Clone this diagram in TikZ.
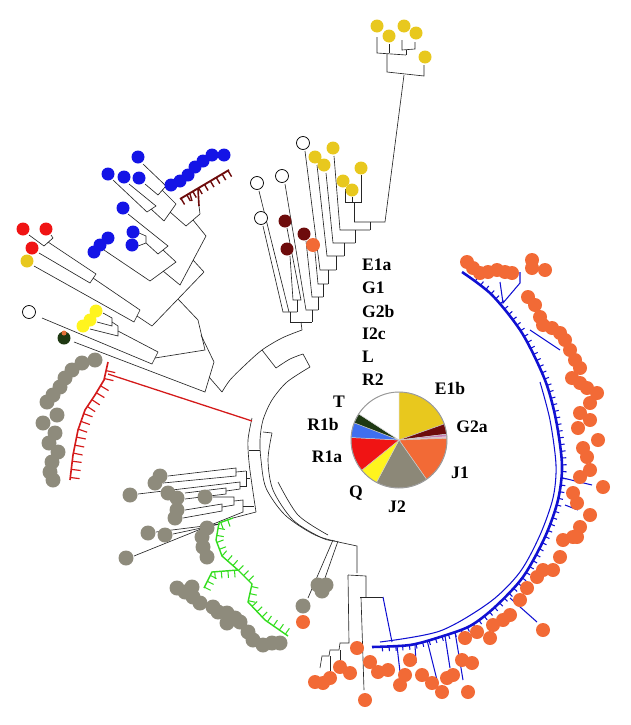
\documentclass[tikz,border=0pt]{standalone}
\usepackage{fontspec}
\setmainfont{Liberation Serif}
\usepackage{xcolor}
\usepackage{tikz}
\usetikzlibrary{decorations.markings}
\definecolor{dotorange}{HTML}{F26A36}
\definecolor{dotgrey}{HTML}{8E8B7C}
\definecolor{dotblue}{HTML}{1414E6}
\definecolor{dotred}{HTML}{F01414}
\definecolor{dotgold}{HTML}{E8C81E}
\definecolor{dotlemon}{HTML}{FFF41E}
\definecolor{maroon}{HTML}{6E0C0C}
\definecolor{darkleaf}{HTML}{1E3812}
\definecolor{treeblue}{HTML}{1010D2}
\definecolor{treered}{HTML}{D41A1A}
\definecolor{treegreen}{HTML}{33DD1E}
\definecolor{piepink}{HTML}{C77DB5}
\definecolor{pielight}{HTML}{EDB8CF}
\definecolor{pieblue}{HTML}{3F6FF0}
\definecolor{piegrey}{HTML}{8C8878}

\begin{document}
\begin{tikzpicture}[x=0.03cm,y=-0.03cm,
  branch/.style={line width=0.55pt,black!85},
  bluebranch/.style={line width=0.9pt,treeblue},
  teeth/.style n args={3}{postaction={decorate,decoration={markings,
      mark=between positions 0.02 and 0.98 step #1 with {\draw[#2] (0,0) -- (0,-#3);}}}},
  hg/.style={font=\bfseries\fontsize{15}{15}\selectfont,inner sep=0pt}]
  \useasboundingbox (0,0) rectangle (630,725);

  % backbone arcs
  \draw[branch] plot[smooth] coordinates {(302,330)(282,338)(262,350)(244,366)(230,380)(222,392)};
  \draw[branch] (262,350) -- (276,368);
  \draw[branch] plot[smooth] coordinates {(276,368)(290,359)(303,354)};
  \draw[branch] (303,354) -- (310,367);
  \draw[branch] plot[smooth] coordinates {(310,367)(287,382)(272,400)(263,420)(260,440)(261,460)(266,488)(285,515)(315,535)(343,543)};
  \draw[branch] (263,432) -- (272,433);
  \draw[branch] plot[smooth] coordinates {(272,433)(268,460)(273,490)(293,520)(322,538)(335,541)};
  \draw[branch] plot[smooth] coordinates {(278,482)(298,515)(328,535)};
  \draw[branch] plot[smooth] coordinates {(252,418)(248,440)(249,462)(252,485)(256,512)};
  \draw[branch] (249,450) -- (260,450);

  % top section
  \draw[branch] (377,37) -- (377,53) -- (406,55);
  \draw[branch] (389,44) -- (389,53);
  \draw[branch] (402,40) -- (402,50) -- (415,49) -- (415,42);
  \draw[branch] (406,50) -- (406,55);
  \draw[branch] (387,54) -- (387,72) -- (424,76) -- (424,65);
  \draw[branch] (404,75) -- (385,222) -- (354,222);
  \draw[branch] (345,189) -- (345,202) -- (361,202) -- (361,175);
  \draw[branch] (352,197) -- (352,202);
  \draw[branch] (354,202) -- (354,222);
  \draw[branch] (370,222) -- (370,230);
  \draw[branch] (334,156) -- (340,230) -- (370,230);
  \draw[branch] (355,230) -- (355,243);
  \draw[branch] (326,173) -- (333,243) -- (355,243);
  \draw[branch] (344,243) -- (344,256);
  \draw[branch] (317,165) -- (327,256) -- (344,256);
  \draw[branch] (336,256) -- (336,270);
  \draw[branch] (305,151) -- (320,270) -- (336,270);
  \draw[branch] (328,270) -- (328,284);
  \draw[branch] (315,252) -- (318,284) -- (328,284);
  \draw[branch] (323,284) -- (323,297);
  \draw[branch] (306,241) -- (312,297) -- (323,297);
  \draw[branch] (318,297) -- (318,310);
  \draw[branch] (285,184) -- (306,310) -- (318,310);
  \draw[branch] (312,310) -- (312,322);
  \draw[branch] (290,256) -- (293,300) -- (301,300) -- (287,228);
  \draw[branch] (297,300) -- (297,312);
  \draw[branch] (263,226) -- (283,312) -- (297,312);
  \draw[branch] (259,191) -- (289,312);
  \draw[branch] (290,312) -- (290,322) -- (312,322);
  \draw[branch] (301,322) -- (302,330);

  % upper left section
  \draw[branch] (113,180) -- (147,212) -- (156,206) -- (129,184);
  \draw[branch] (151,209) -- (164,221);
  \draw[branch] (143,164) -- (166,186) -- (158,195) -- (145,184);
  \draw[branch] (162,190) -- (176,204) -- (164,221);
  \draw[branch] (170,212) -- (186,226) -- (200,214);
  \draw[line width=1.6pt,maroon,teeth={0.12}{line width=1.2pt,maroon}{6pt}] (180,199) -- (229,170);
  \draw[line width=1.2pt,maroon] (190,194) -- (192,201);
  \draw[line width=1.4pt,maroon] (198,189) -- (199,206);
  \draw[branch] (199,206) -- (200,214);
  \draw[branch] (193,220) -- (206,236);
  \draw[branch] (128,214) -- (168,246) -- (158,254) -- (146,243);
  \draw[branch] (139,233) -- (146,236) -- (146,243) -- (138,246);
  \draw[branch] (163,250) -- (176,262) -- (150,281) -- (104,250);
  \draw[branch] (163,271) -- (180,285) -- (206,236);
  \draw[branch] (193,260) -- (204,272);
  \draw[branch] (29,235) -- (44,246) -- (53,238) -- (51,235);
  \draw[branch] (48,242) -- (96,274) -- (90,283) -- (39,253);
  \draw[branch] (93,278) -- (140,310) -- (134,322) -- (34,266);
  \draw[branch] (137,316) -- (152,326) -- (204,272);
  \draw[branch] (178,299) -- (198,320);
  \draw[branch] (103,313) -- (112,318) -- (112,326) -- (97,322);
  \draw[branch] (112,322) -- (118,326) -- (118,336) -- (90,329);
  \draw[branch] (118,331) -- (158,352) -- (152,364) -- (42,318);
  \draw[branch] (155,358) -- (205,350) -- (198,320);
  \draw[branch] (201,335) -- (214,362) -- (205,392) -- (74,342);
  \draw[branch] (209,377) -- (222,392);

  % red clade
  \draw[line width=1.1pt,treered] (108,374) -- (252,421);
  \draw[line width=1.4pt,treered,teeth={0.065}{line width=1pt,treered}{8pt}]
    (70,480) -- (73,455) -- (78,430) -- (85,410) -- (95,395) -- (104,380) -- (108,362);

  % grey clade with black branches
  \draw[branch] (168,476) -- (236,468) -- (236,476) -- (163,483);
  \draw[branch] (236,472) -- (246,471);
  \draw[branch] (138,494) -- (240,482) -- (240,489) -- (226,491);
  \draw[branch] (185,493) -- (226,488) -- (226,494) -- (185,499);
  \draw[branch] (240,486) -- (246,486) -- (246,471);
  \draw[branch] (246,478) -- (250,478);
  \draw[branch] (185,510) -- (222,504) -- (222,511) -- (183,518);
  \draw[branch] (222,507) -- (234,505) -- (234,497) -- (213,497);
  \draw[branch] (234,501) -- (243,500) -- (243,512) -- (134,556);
  \draw[branch] (173,534) -- (220,524) -- (156,532);
  \draw[branch] (243,506) -- (254,506);
  \draw[branch] (233,518) -- (256,512);

  % green clade
  \draw[line width=1.2pt,treegreen,teeth={0.045}{line width=0.9pt,treegreen}{6pt}]
    (288,636) -- (265,620) -- (248,602) -- (252,584) -- (238,570) -- (222,556) -- (216,540) -- (219,523) -- (233,518);
  \draw[line width=1.2pt,treegreen,teeth={0.15}{line width=0.9pt,treegreen}{6pt}]
    (204,588) -- (212,572) -- (238,570);

  % bottom section
  \draw[branch] (333,540) -- (308,598);
  \draw[branch] (338,541) -- (325,578);
  \draw[branch] (343,543) -- (357,546) -- (357,573);
  \draw[branch] (348,575) -- (366,576) -- (366,597);
  \draw[branch] (348,575) -- (349,643) -- (340,643) -- (339,650) -- (330,650) -- (329,656) -- (322,656) -- (320,668);
  \draw[branch] (340,650) -- (340,660);
  \draw[branch] (330,656) -- (330,671);
  \draw[branch] (360,597) -- (383,597);
  \draw[branch] (361,597) -- (364,690);
  \draw[bluebranch] (383,597) -- (392,642);

  % big blue clade
  \draw[line width=2.2pt,treeblue,teeth={0.013}{line width=0.9pt,treeblue}{4pt}] plot[smooth] coordinates
    {(372,647)(410,645)(440,637)(470,626)(495,607)(523,577)(545,537)(558,500)(562,465)(556,420)(545,380)(522,333)(492,295)(462,272)};
  \draw[bluebranch] plot[smooth] coordinates
    {(380,642)(440,631)(490,602)(520,572)(540,535)(553,498)(556,465)(550,420)(540,382)};
  \draw[bluebranch] (563,478) -- (592,485);
  \draw[bluebranch] (565,505) -- (578,510);
  \draw[bluebranch] (510,598) -- (537,622);
  \draw[bluebranch] (397,646) -- (400,672);
  \draw[bluebranch] (415,645) -- (416,663);
  \draw[bluebranch] (427,640) -- (437,680);
  \draw[bluebranch] (445,636) -- (450,668);
  \draw[bluebranch] (455,632) -- (463,680);
  \draw[bluebranch] (500,282) -- (503,303) -- (520,283) -- (520,272);
  \draw[bluebranch] (530,330) -- (560,350);

  % leaves
  \foreach \x/\y in {377/26,389/36,404/26,416/33,425/57,333/148,315/157,324/165,
      361/168,343/181,352/190,27/261}
    \fill[dotgold] (\x,\y) circle (6.5);
  \foreach \x/\y in {303/143,282/176,257/183,261/218,29/312}
    \draw[line width=0.6pt,fill=white] (\x,\y) circle (6.5);
  \foreach \x/\y in {285/221,304/234,287/249}
    \fill[maroon] (\x,\y) circle (6.5);
  \foreach \x/\y in {138/157,108/174,124/177,139/178,123/208,133/232,132/245,94/252,
      100/245,108/238,171/185,180/181,188/175,195/167,203/161,212/155,224/155}
    \fill[dotblue] (\x,\y) circle (6.5);
  \foreach \x/\y in {23/229,46/229,32/248}
    \fill[dotred] (\x,\y) circle (6.5);
  \foreach \x/\y in {96/311,90/320,83/326}
    \fill[dotlemon] (\x,\y) circle (6.5);
  \fill[darkleaf] (64,338) circle (6.5);
  \fill[dotorange!70!brown] (64,333) circle (2.5);
  \foreach \x/\y in {95/360,82/363,72/370,65/378,60/387,53/395,47/402,57/415,43/423,
      55/433,49/443,58/452,52/462,50/472,53/480,
      160/476,155/483,130/495,168/493,177/498,177/510,175/518,205/497,148/533,165/535,126/558,
      207/528,202/537,203/547,207/557,177/588,192/587,193/597,200/603,213/607,227/613,
      227/623,240/622,248/632,253/640,263/645,280/643,272/643,185/592,218/612,235/618,
      318/585,326/585,322/591,303/606}
    \fill[dotgrey] (\x,\y) circle (7.5);
  \foreach \x/\y in {313/245,
      467/262,473/268,480/273,488/272,497/270,505/272,512/273,532/260,532/268,545/270,
      528/297,535/305,540/317,543/325,552/328,560/333,565/340,570/350,575/360,580/368,
      572/378,580/383,587/388,597/393,590/403,580/413,590/420,578/428,598/440,583/448,
      587/457,590/470,580/477,603/487,573/493,577/503,590/515,580/527,577/537,
      573/537,563/540,560/557,553/570,543/570,537/577,527/588,520/600,510/615,503/620,
      493/625,490/638,477/632,465/638,543/630,472/663,462/660,468/692,453/675,447/678,
      442/692,432/683,422/675,410/660,405/675,400/685,388/670,378/672,370/662,357/648,
      365/700,350/673,340/667,330/678,323/683,315/682,303/622}
    \fill[dotorange] (\x,\y) circle (7);

  % pie of haplogroups
  \foreach \a/\b/\c in {-90/-19.5/dotgold, -19.5/-7/maroon, -7/-4/piepink, -4/-2/pielight,
      -2/55/dotorange, 55/118/piegrey, 118/141/dotlemon, 141/183/dotred,
      183/201/pieblue, 201/213/darkleaf, 213/270/white}
    \filldraw[fill=\c,draw=white!80!black,line width=0.4pt]
      (399,440) -- ++(\a:48) arc (\a:\b:48) -- cycle;
  \draw[black!40,line width=0.8pt] (399,440) circle (48);

  % haplogroup names
  \node[hg,anchor=west] (nE1a) at (362,265) {E1a};
  \node[hg,anchor=west] (nG1) at (362,288) {G1};
  \node[hg,anchor=west] (nG2b) at (362,311) {G2b};
  \node[hg,anchor=west] (nI2c) at (362,334) {I2c};
  \node[hg,anchor=west] (nL) at (362,357) {L};
  \node[hg,anchor=west] (nR2) at (362,380) {R2};
  \node[hg] (nE1b) at (450,388) {E1b};
  \node[hg] (nG2a) at (472,427) {G2a};
  \node[hg] (nJ1) at (460,473) {J1};
  \node[hg] (nJ2) at (397,507) {J2};
  \node[hg] (nQ) at (356,493) {Q};
  \node[hg] (nR1a) at (327,457) {R1a};
  \node[hg] (nR1b) at (323,424) {R1b};
  \node[hg] (nT) at (339,402) {T};
\end{tikzpicture}
\end{document}
